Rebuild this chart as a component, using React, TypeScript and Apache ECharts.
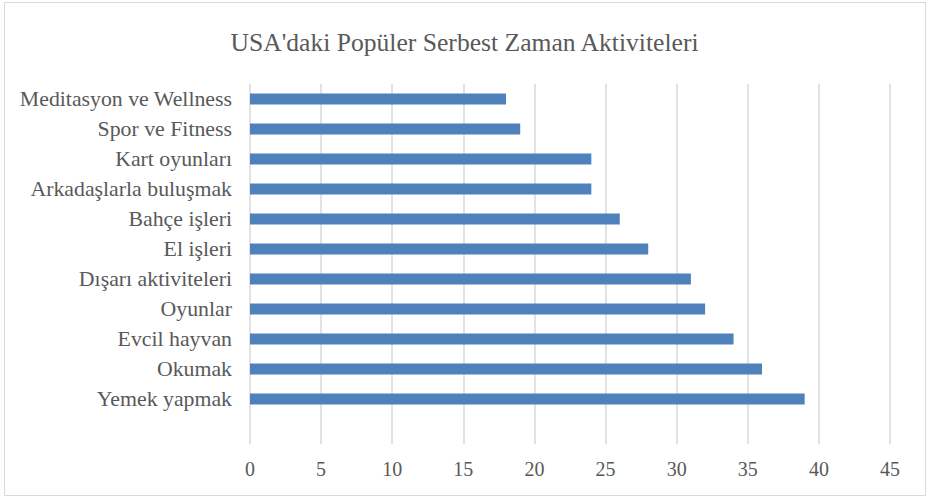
import React, { useEffect, useRef } from "react";
import * as echarts from "echarts";

const categories = [
  "",
  "Yemek yapmak",
  "Okumak",
  "Evcil hayvan",
  "Oyunlar",
  "Dışarı aktiviteleri",
  "El işleri",
  "Bahçe işleri",
  "Arkadaşlarla buluşmak",
  "Kart oyunları",
  "Spor ve Fitness",
  "Meditasyon ve Wellness",
];
const values: (number | null)[] = [null, 39, 36, 34, 32, 31, 28, 26, 24, 24, 19, 18];
const titleText = "USA'daki Popüler Serbest Zaman Aktiviteleri";

export default function App() {
  const ref = useRef<HTMLDivElement>(null);
  useEffect(() => {
    if (!ref.current) return;
    const chart = echarts.init(ref.current, null, { renderer: "svg" });
    const font = "'Liberation Serif', 'Times New Roman', serif";
    chart.setOption({
      animation: false,
      backgroundColor: "#ffffff",
      title: {
        text: titleText,
        left: "center",
        top: 24,
        textStyle: { fontFamily: font, fontSize: 25.6, fontWeight: "normal", color: "#595959" },
      },
      graphic: [
        {
          type: "rect",
          shape: { x: 4.5, y: 2.5, width: 921, height: 493 },
          style: { fill: "none", stroke: "#D9D9D9", lineWidth: 1 },
          silent: true,
        },
      ],
      grid: { left: 250, right: 39, top: 84, bottom: 53, containLabel: false },
      xAxis: {
        type: "value",
        min: 0,
        max: 45,
        interval: 5,
        axisLine: { show: false },
        axisTick: { show: false },
        splitLine: { show: true, lineStyle: { color: "#D9D9D9", width: 1.5 } },
        axisLabel: { fontFamily: font, fontSize: 20, color: "#595959", margin: 15 },
      },
      yAxis: {
        type: "category",
        data: categories,
        axisLine: { show: false },
        axisTick: { show: false },
        axisLabel: { fontFamily: font, fontSize: 21.8, color: "#595959", margin: 18 },
      },
      series: [
        {
          type: "bar",
          data: values,
          barWidth: 11,
          itemStyle: { color: "#4F81BD" },
        },
      ],
    });
    return () => chart.dispose();
  }, []);
  return <div ref={ref} style={{ width: 929, height: 497, position: "absolute", left: 0, top: 0 }} />;
}
